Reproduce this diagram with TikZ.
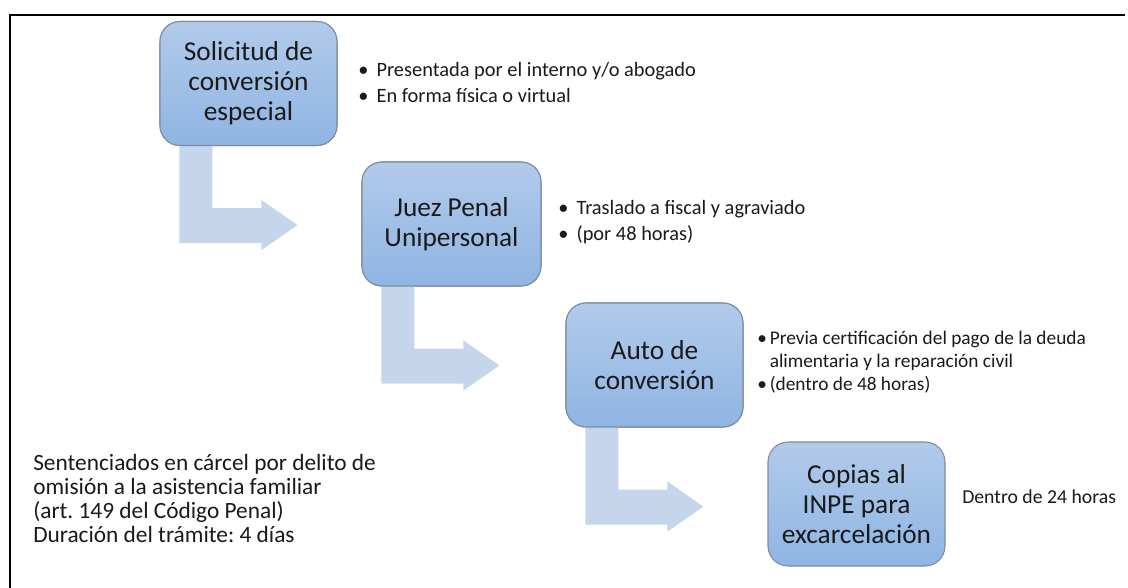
\documentclass[tikz,border=0pt]{standalone}
\usepackage{fontspec}
\setmainfont{Carlito}
\usetikzlibrary{calc}
\definecolor{boxtop}{HTML}{B2CAEA}
\definecolor{boxbot}{HTML}{8FB5E3}
\definecolor{boxline}{HTML}{7D8DA3}
\definecolor{arrowfill}{HTML}{C5D6EC}
\definecolor{txt}{HTML}{1A1A1A}
\begin{document}
\frenchspacing
\begin{tikzpicture}[x=0.75pt,y=-0.75pt,
  stepbox/.style={draw=boxline, line width=0.8pt, rounded corners=15pt,
    top color=boxtop, bottom color=boxbot, minimum width=177*0.75pt,
    minimum height=124*0.75pt, align=center, text=txt,
    font=\fontsize{20.5}{22.5}\selectfont, inner sep=1pt},
  bullets/.style={anchor=west, align=left, inner sep=0pt, text=txt,
    font=\fontsize{15.3}{19.5}\selectfont},
  note/.style={anchor=west, align=left, inner sep=0pt, text=txt}]
\useasboundingbox (0,0) rectangle (1128,588);
\fill[white] (0,0) rectangle (1128,588);
% frame
\draw[line width=1.5pt] (10,588) -- (10,15) coordinate (fa) -- (1125,15) coordinate (fb);
% boxes
\node[stepbox] (b1) at (248.5,83.5) {Solicitud de\\conversión\\especial};
\node[stepbox, minimum width=179*0.75pt] (b2) at (451.5,224) {Juez Penal\\Unipersonal};
\node[stepbox] (b3) at (654.5,365) {Auto de\\conversión};
\node[stepbox] (b4) at (856.5,504) {Copias al\\INPE para\\excarcelación};
% bent arrows
\foreach \s in {b1,b2,b3}{
  \begin{scope}[shift={(\s.south west)}]
  \fill[arrowfill] (20,-0.5) -- (53,-0.5) -- (53,62) -- (102,62) -- (102,54)
     -- (138,79) -- (102,104) -- (102,97) -- (20,97) -- cycle;
  \end{scope}
}
% redraw boxes on top (arrows start under them)
\node[stepbox] at (b1) {Solicitud de\\conversión\\especial};
\node[stepbox, minimum width=179*0.75pt] at (b2) {Juez Penal\\Unipersonal};
\node[stepbox] at (b3) {Auto de\\conversión};
% bullet texts
\node[bullets] (t1) at (358,82) {\textbullet\hspace{0.4em}Presentada por el interno y/o abogado\\
  \textbullet\hspace{0.4em}En forma física o virtual};
\node[bullets] (t2) at (558,222) {\textbullet\hspace{0.4em}Traslado a fiscal y agraviado\\
  \textbullet\hspace{0.4em}(por 48 horas)};
\node[note, font=\fontsize{14.5}{17}\selectfont] (t3) at (757,363)
  {\begin{tabular}{@{}l@{\hspace{0.15em}}l@{}}
   \textbullet & Previa certificación del pago de la deuda\\
               & alimentaria y la reparación civil\\
   \textbullet & (dentro de 48 horas)
   \end{tabular}};
\node[note, font=\fontsize{14.8}{15}\selectfont] (t4) at (962,497) {Dentro de 24 horas};
\node[note, font=\fontsize{17.5}{18}\selectfont] (t5) at (33,498.5)
  {Sentenciados en cárcel por delito de\\omisión a la asistencia familiar\\(art. 149 del Código Penal)\\Duración del trámite: 4 días};
\end{tikzpicture}
\end{document}
